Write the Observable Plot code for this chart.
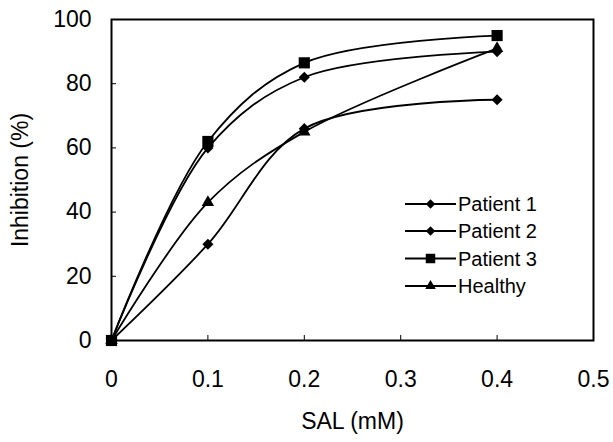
<!DOCTYPE html>
<html><head><meta charset="utf-8">
<script src="https://cdn.jsdelivr.net/npm/d3@7"></script>
<script src="https://cdn.jsdelivr.net/npm/@observablehq/plot@0.6"></script>
<style>
body{margin:0;background:#fff;}
#wrap{position:relative;width:613px;height:442px;font-family:Arial,"Liberation Sans",sans-serif;}
#legend{position:absolute;left:0;top:0;pointer-events:none;}
</style></head><body><div id="wrap"></div>
<script>
const conc = [0, 0.1, 0.2, 0.4];
const patient1 = [0, 30, 66, 75];
const patient2 = [0, 60, 82, 90];
const patient3 = [0, 62, 86.5, 95];
const healthy = [0, 43, 65, 91];
const seriesNames = ["Patient 1", "Patient 2", "Patient 3", "Healthy"];
const seriesSymbols = ["diamond2", "diamond2", "square", "triangle"];
const xTicks = [0, 0.1, 0.2, 0.3, 0.4, 0.5];
const yTicks = [0, 20, 40, 60, 80, 100];
const xLabel = "SAL (mM)";
const yLabel = "Inhibition (%)";

const seriesValues = [patient1, patient2, patient3, healthy];
const rows = [];
seriesNames.forEach((name, i) => {
  conc.forEach((c, j) => rows.push({series: name, x: c, y: seriesValues[i][j], sym: seriesSymbols[i]}));
});
const symR = {diamond2: 5, square: 6.3, triangle: 4.6};

const marks = [
  Plot.line(rows, {x: "x", y: "y", z: "series", stroke: "black", strokeWidth: 1.8, curve: "catmull-rom"}),
];
for (const s of ["diamond2", "square", "triangle"]) {
  marks.push(Plot.dot(rows.filter(d => d.sym === s), {x: "x", y: "y", symbol: () => s, r: symR[s], fill: "black", stroke: "none"}));
}
marks.push(Plot.frame({stroke: "black", strokeWidth: 2}));
marks.push(Plot.axisX({ticks: xTicks, tickFormat: d => String(d), tickSize: -5, tickPadding: 35, fontSize: 23, label: xLabel, labelAnchor: "center", labelArrow: "none", labelOffset: 88}));
marks.push(Plot.axisY({ticks: yTicks, tickFormat: d => String(d), tickSize: -5, tickPadding: 25, fontSize: 23, label: yLabel, labelAnchor: "center", labelArrow: "none", labelOffset: 100}));

const chart = Plot.plot({
  width: 613, height: 442,
  marginLeft: 111, marginRight: 20, marginTop: 19, marginBottom: 102,
  style: {fontFamily: 'Arial, "Liberation Sans", sans-serif', fontSize: "23px", color: "black", background: "white"},
  x: {domain: [0, 0.5]},
  y: {domain: [0, 100]},
  marks
});
const wrap = document.getElementById("wrap");
wrap.appendChild(chart);

// legend overlay inside plot area
const leg = d3.select(wrap).append("svg").attr("id", "legend").attr("width", 613).attr("height", 442);
const symMap = {diamond2: d3.symbolDiamond2, square: d3.symbolSquare, triangle: d3.symbolTriangle};
const legRowY = [204, 231, 258.5, 286];
seriesNames.forEach((name, i) => {
  const g = leg.append("g").attr("transform", `translate(405,${legRowY[i]})`);
  g.append("line").attr("x1", 0).attr("x2", 51).attr("stroke", "black").attr("stroke-width", 1.8);
  const r = symR[seriesSymbols[i]] * 0.85;
  g.append("path").attr("transform", "translate(25.5,0)").attr("d", d3.symbol(symMap[seriesSymbols[i]], Math.PI * r * r)()).attr("fill", "black");
  g.append("text").attr("x", 53).attr("dy", "0.35em").attr("font-size", 20).attr("font-family", 'Arial, "Liberation Sans", sans-serif').text(name);
});
</script></body></html>
